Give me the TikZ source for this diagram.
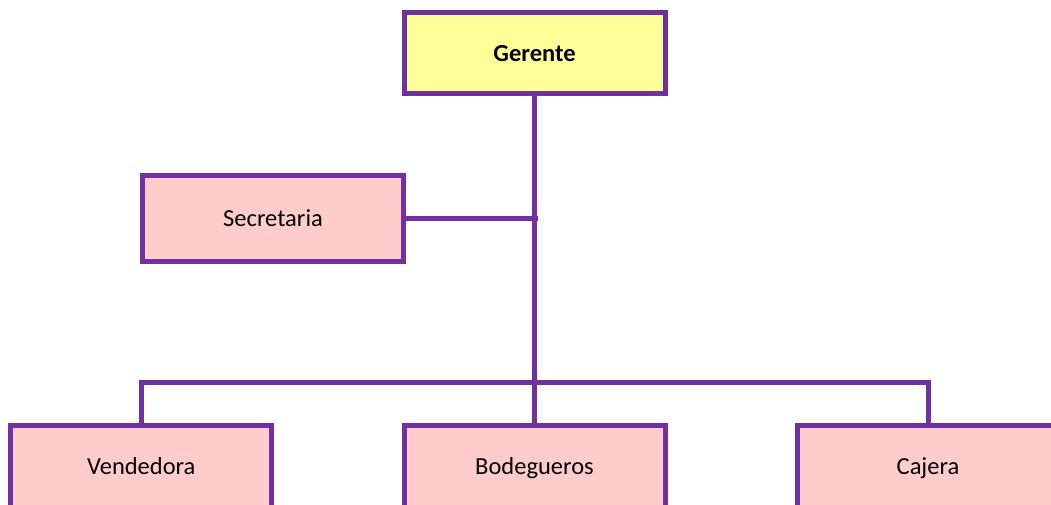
\documentclass[tikz,border=0pt]{standalone}
\usepackage{fontspec}
\setmainfont{Carlito}
\usetikzlibrary{positioning,calc}

\definecolor{orgline}{HTML}{7030A0}
\definecolor{jefefill}{HTML}{FFFF99}
\definecolor{cargofill}{HTML}{FFCCCC}

\tikzset{
  cargo/.style={draw=orgline, line width=5pt, fill=cargofill, minimum width=261pt,
    inner sep=0pt, text height=16pt, text depth=0.6pt,
    font=\fontsize{24.5}{28}\selectfont},
  jefe/.style={cargo, fill=jefefill, font=\fontsize{24.5}{28}\selectfont\bfseries},
  enlace/.style={draw=orgline, line width=5pt}
}

\begin{document}
\begin{tikzpicture}[x=1pt,y=-1pt]
			\useasboundingbox (0,0) rectangle (1051,504);
			
			% Gerente
			\node[jefe, minimum height=81pt] (ger) at (534.5,53.4) {Gerente};
			
			% Secretaria
			\node[cargo, minimum height=86pt] (sec) at (273,218.8) {Secretaria};
			
			% Bottom row
			\node[cargo, minimum height=84pt] (ven) at (141.3,467) {Vendedora};
			\node[cargo, minimum height=84pt] (bod) at (534.5,467) {Bodegueros};
			\node[cargo, minimum height=84pt] (caj) at (928,467) {Cajera};
			
			% Lines
			\coordinate (bus) at (534.5,382.3);
			\draw[enlace] (ger.south) -- (bod.north);
			\draw[enlace] (sec.east) -- ($(sec.east -| ger.south)+(3,0)$);
			\draw[enlace] (ven.north) |- (bus) -| (caj.north);
		\end{tikzpicture}
\end{document}
